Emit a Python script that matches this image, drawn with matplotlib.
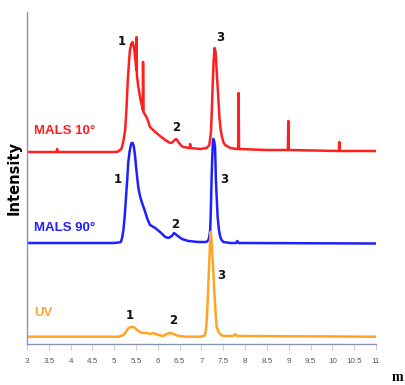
import matplotlib
matplotlib.use("Agg")
import matplotlib.pyplot as plt

# Retention time (min) and detector response (arbitrary, offset traces)
mals10_time = [3.00, 3.68, 3.69, 3.70, 5.02, 5.09, 5.17, 5.21, 5.25, 5.28, 5.31,
               5.34, 5.36, 5.39, 5.42, 5.44, 5.46, 5.49, 5.505, 5.51, 5.52, 5.55,
               5.59, 5.64, 5.655, 5.66, 5.67, 5.75, 5.82, 5.94, 6.05, 6.17, 6.28,
               6.33, 6.36, 6.41, 6.44, 6.47, 6.52, 6.58, 6.73, 6.74, 6.75, 6.97,
               7.12, 7.18, 7.20, 7.22, 7.24, 7.26, 7.28, 7.30, 7.32, 7.33, 7.35,
               7.37, 7.41, 7.44, 7.47, 7.50, 7.54, 7.66, 7.81, 7.84, 7.85, 7.86,
               8.50, 8.98, 8.99, 9.00, 10.15, 10.16, 10.17, 11.00]
mals10_signal = [192, 192, 195, 192, 192, 192.5, 195.7, 203, 214, 235, 264,
                 283, 294, 300, 302, 299, 294, 282, 274, 307, 268, 258,
                 247, 237, 234, 282, 232, 226, 217, 212, 208, 204, 201,
                 201.5, 203, 205, 204, 202, 199, 197, 196, 200, 196, 195,
                 196, 199, 206, 214, 238, 264, 285, 296, 293, 287, 272,
                 257, 227, 214, 207, 202, 199, 196, 195, 195, 251, 195,
                 194, 194, 223, 194, 193, 202, 193, 193]

mals90_time = [3.00, 5.00, 5.10, 5.15, 5.18, 5.21, 5.24, 5.27, 5.30, 5.32, 5.35,
               5.38, 5.40, 5.42, 5.44, 5.45, 5.48, 5.50, 5.53, 5.55, 5.59, 5.63,
               5.67, 5.71, 5.76, 5.82, 5.94, 6.05, 6.17, 6.24, 6.32, 6.37, 6.43,
               6.55, 6.70, 6.93, 7.11, 7.16, 7.18, 7.20, 7.215, 7.23, 7.245, 7.26,
               7.27, 7.29, 7.31, 7.32, 7.33, 7.35, 7.37, 7.40, 7.43, 7.46, 7.50,
               7.66, 7.79, 7.82, 7.85, 11.00]
mals90_signal = [101, 101, 101.5, 102, 106, 114, 128, 147, 166, 181, 192,
                 199, 201, 201, 199, 197, 187, 177, 165, 157, 148, 142,
                 137, 132, 125, 119, 116, 112, 107, 106, 108, 111, 109,
                 105, 103, 102, 102, 104, 108, 114, 135, 164, 185, 201,
                 205, 203, 197, 182, 164, 145, 127, 114, 107, 104, 102,
                 101, 101, 103, 101, 100.5]

uv_time = [3.00, 5.10, 5.21, 5.25, 5.29, 5.33, 5.38, 5.44, 5.48, 5.52, 5.63,
           5.75, 5.82, 5.90, 6.01, 6.13, 6.20, 6.28, 6.36, 6.47, 6.66, 6.97,
           7.06, 7.09, 7.11, 7.125, 7.14, 7.155, 7.17, 7.185, 7.20, 7.21, 7.22,
           7.235, 7.25, 7.27, 7.29, 7.31, 7.33, 7.35, 7.38, 7.41, 7.45, 7.50,
           7.72, 7.77, 7.82, 11.00]
uv_signal = [7.3, 7.3, 9, 11, 14, 16, 17, 17, 16, 14, 11,
             11, 10, 11, 9, 8, 10, 11, 10, 8, 7.3, 7.3,
             8, 11, 17, 28, 41, 57, 74, 90, 107, 112, 110,
             100, 88, 74, 55, 41, 26, 17, 13, 11, 9, 8,
             8, 9.7, 8, 7.3]

trace_names = ["MALS 10°", "MALS 90°", "UV"]
trace_colors = ["#ff1f1f", "#1f1fff", "#ffa526"]
name_anchor_y = [209.7, 113.3, 28.3]

# Peak number labels: (time, response) per trace
peak_ids = ["1", "2", "3"]
mals10_peak_pos = [(5.18, 299), (6.43, 213), (7.44, 303)]
mals90_peak_pos = [(5.09, 160.7), (6.39, 116.3), (7.53, 161.3)]
uv_peak_pos = [(5.35, 24.7), (6.36, 19.7), (7.45, 64.7)]

x_ticks = [3, 3.5, 4, 4.5, 5, 5.5, 6, 6.5, 7, 7.5, 8, 8.5, 9, 9.5, 10, 10.5, 11]
x_tick_labels = ["3", "3.5", "4", "4.5", "5", "5.5", "6", "6.5", "7", "7.5",
                 "8", "8.5", "9", "9.5", "10", "10.5", "11"]

W, H = 406, 385
fig = plt.figure(figsize=(W / 100, H / 100), dpi=100)
ax = fig.add_axes([27 / W, 1 - 344 / H, (376 - 27) / W, (344 - 12) / H])

series = [(mals10_time, mals10_signal), (mals90_time, mals90_signal),
          (uv_time, uv_signal)]
for (t, s), c in zip(series, trace_colors):
    ax.plot(t, s, color=c, lw=1.8, solid_joinstyle="round")

for name, c, y in zip(trace_names, trace_colors, name_anchor_y):
    ax.text(3.17, y, name, color=c, fontsize=9.5, fontweight="bold",
            family="Liberation Sans", ha="left", va="baseline")

for positions in (mals10_peak_pos, mals90_peak_pos, uv_peak_pos):
    for pid, (tx, ty) in zip(peak_ids, positions):
        ax.text(tx, ty, pid, color="#111111", fontsize=8.5, fontweight="bold",
                family="DejaVu Sans", ha="center", va="baseline")

ax.set_xlim(3.0, 11.0)
ax.set_ylim(0, 332)
ax.set_yticks([])
ax.set_xticks(x_ticks)
ax.set_xticklabels(x_tick_labels, fontsize=5.8, color="#555555",
                   family="Liberation Sans")
ax.tick_params(axis="x", direction="out", length=4, width=0.8,
               color="#cfcfcf", pad=6)

for side in ("top", "right"):
    ax.spines[side].set_visible(False)
for side in ("left", "bottom"):
    ax.spines[side].set_color("#8596ae")
    ax.spines[side].set_linewidth(1.0)

fig.text(14.5 / W, 1 - 178.3 / H, "Intensity", rotation=90, fontsize=10.5,
         fontweight="bold", family="DejaVu Sans", ha="center", va="center")
fig.text(392 / W, 1 - 381 / H, "m", fontsize=10, fontweight="bold",
         family="Liberation Serif", ha="left", va="baseline")

fig.savefig("out.png", dpi=100)
